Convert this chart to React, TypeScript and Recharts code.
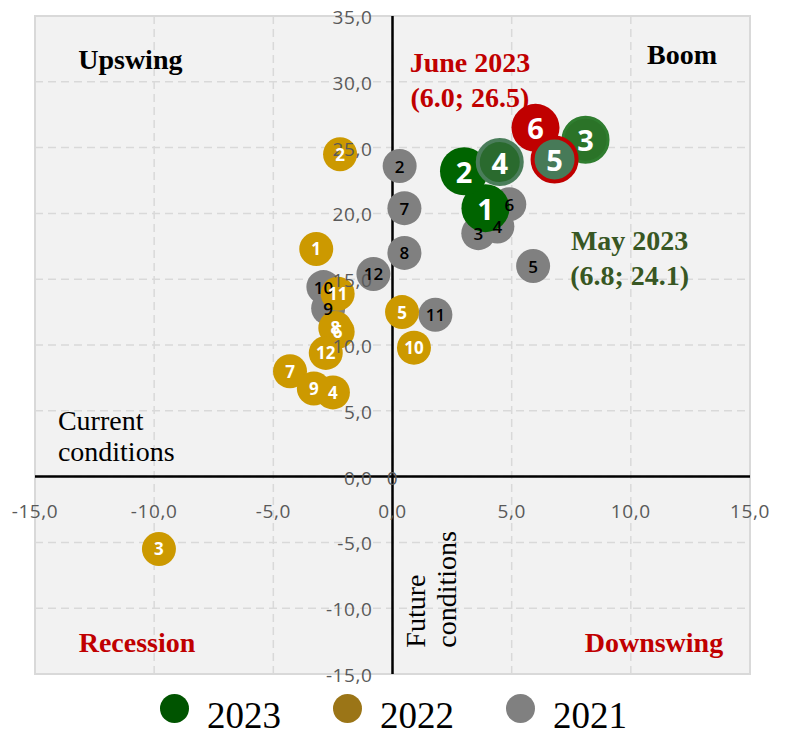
import React from 'react';
import {
  CartesianGrid,
  ReferenceArea,
  ReferenceDot,
  ReferenceLine,
  Scatter,
  ScatterChart,
  XAxis,
  YAxis
} from 'recharts';

// months shown as bubble labels, x = future conditions, y = current conditions
const MONTHS_2023 = [1, 2, 3, 4, 5, 6];
const X_2023 = [3.9, 3.0, 8.1, 4.5, 6.8, 6.0];
const Y_2023 = [20.4, 23.2, 25.6, 23.9, 24.1, 26.5];

const MONTHS_2022 = [1, 2, 3, 4, 5, 6, 7, 8, 9, 10, 11, 12];
const X_2022 = [-3.2, -2.2, -9.8, -2.5, 0.4, -2.3, -4.3, -2.4, -3.3, 0.9, -2.3, -2.8];
const Y_2022 = [17.3, 24.5, -5.5, 6.4, 12.5, 11.0, 8.0, 11.3, 6.7, 9.8, 13.9, 9.4];

const MONTHS_2021 = [2, 3, 4, 5, 6, 7, 8, 9, 10, 11, 12];
const X_2021 = [0.3, 3.6, 4.4, 5.9, 4.9, 0.5, 0.5, -2.7, -2.9, 1.8, -0.8];
const Y_2021 = [23.6, 18.5, 19.0, 16.0, 20.7, 20.4, 17.0, 12.8, 14.4, 12.3, 15.4];

const X_TICKS = [-15, -10, -5, 0, 5, 10, 15];
const Y_TICKS = [-15, -10, -5, 0, 5, 10, 15, 20, 25, 30, 35];

const LEGEND = [
  { name: '2023', color: '#005400' },
  { name: '2022', color: '#9b7517' },
  { name: '2021', color: '#808080' }
];

// special styling for the latest months of 2023
const STYLE_2023: Record<number, { fill: string; stroke?: string; sw?: number }> = {
  1: { fill: '#006400' },
  2: { fill: '#006400' },
  3: { fill: '#2b7328', stroke: '#2f7d2f', sw: 3 },
  4: { fill: '#2a6a2e', stroke: '#4a7d5a', sw: 4 },
  5: { fill: '#477a58', stroke: '#c00000', sw: 4 },
  6: { fill: '#c00000' }
};

const toRows = (months: number[], xs: number[], ys: number[]) =>
  months.map((m, i) => ({ month: m, x: xs[i], y: ys[i] }));

const rows2023 = toRows(MONTHS_2023, X_2023, Y_2023).sort(
  (a, b) => (a.month === 5 ? 1 : 0) - (b.month === 5 ? 1 : 0)
);
const rows2022 = toRows(MONTHS_2022, X_2022, Y_2022);
const rows2021 = toRows(MONTHS_2021, X_2021, Y_2021);

const fmt = (n: number) => n.toFixed(1).replace('.', ',');

const SERIF = '"Liberation Serif", "Times New Roman", serif';
const SANS = '"Open Sans", "Liberation Sans", sans-serif';

const bubble = (r: number, fill: string) => (p: any) => {
  if (p.cx == null || p.cy == null) return <g />;
  return <circle cx={p.cx} cy={p.cy} r={r} fill={fill} />;
};

const bubble2023 = (p: any) => {
  if (p.cx == null || p.cy == null) return <g />;
  const s = STYLE_2023[p.payload.month] || { fill: '#006400' };
  const sw = s.sw || 0;
  return (
    <circle cx={p.cx} cy={p.cy} r={24 - sw / 2} fill={s.fill} stroke={s.stroke || 'none'} strokeWidth={sw} />
  );
};

const monthLabel = (size: number, color: string, weight: number) => (p: any) => {
  if (p.cx == null || p.cy == null) return <g />;
  return (
    <text
      x={p.cx}
      y={p.cy}
      textAnchor="middle"
      dominantBaseline="central"
      fontFamily={SANS}
      fontSize={size}
      fontWeight={weight}
      fill={color}
    >
      {p.payload.month}
    </text>
  );
};

const tickText = (value: string, dx: number, dy: number, anchor: string) => (p: any) => {
  const { x, y } = p.viewBox;
  return (
    <text
      x={x + dx}
      y={y + dy}
      textAnchor={anchor}
      dominantBaseline="central"
      fontFamily={SANS}
      fontSize={19}
      letterSpacing={0.6}
      fill="#595959"
    >
      {value}
    </text>
  );
};

const note =
  (lines: string[], color: string, bold: boolean, anchor: string, rotate = false) =>
  (p: any) => {
    const { x, y } = p.viewBox;
    const common = {
      fontFamily: SERIF,
      fontSize: 28,
      fontWeight: bold ? 700 : 400,
      fill: color,
      textAnchor: anchor
    };
    if (rotate) {
      return (
        <text transform={`translate(${x},${y}) rotate(-90)`} {...common}>
          {lines.map((l, i) => (
            <tspan key={l} x={0} y={i * 31}>
              {l}
            </tspan>
          ))}
        </text>
      );
    }
    return (
      <text {...common} dominantBaseline="central">
        {lines.map((l, i) => (
          <tspan key={l} x={x} y={y + i * (bold ? 35 : 31)}>
            {l}
          </tspan>
        ))}
      </text>
    );
  };

const NOTES = [
  { x: -11.0, y: 31.7, lines: ['Upswing'], color: '#000', bold: true, anchor: 'middle' },
  { x: 12.15, y: 32.1, lines: ['Boom'], color: '#000', bold: true, anchor: 'middle' },
  { x: 3.25, y: 31.5, lines: ['June 2023', '(6.0; 26.5)'], color: '#c00000', bold: true, anchor: 'middle' },
  { x: 9.95, y: 18.0, lines: ['May 2023', '(6.8; 24.1)'], color: '#385723', bold: true, anchor: 'middle' },
  { x: -14.04, y: 4.33, lines: ['Current', 'conditions'], color: '#000', bold: false, anchor: 'start' },
  { x: -10.72, y: -12.54, lines: ['Recession'], color: '#c00000', bold: true, anchor: 'middle' },
  { x: 10.97, y: -12.54, lines: ['Downswing'], color: '#c00000', bold: true, anchor: 'middle' }
];

const App: React.FC = () => (
  <div style={{ position: 'absolute', left: 0, top: 0, width: 787, height: 729, background: '#fff', overflow: 'hidden' }}>
    <ScatterChart width={787} height={729} margin={{ top: 16, right: 37, bottom: 55, left: 35 }}>
      <CartesianGrid stroke="#d9d9d9" strokeWidth={1.5} strokeDasharray="8 5" fill="#f2f2f2" />
      <XAxis type="number" dataKey="x" domain={[-15, 15]} ticks={X_TICKS} hide />
      <YAxis type="number" dataKey="y" domain={[-15, 35]} ticks={Y_TICKS} hide />
      <ReferenceArea x1={-15} x2={15} y1={-15} y2={35} fill="none" stroke="#d9d9d9" strokeWidth={2} />
      <ReferenceLine x={0} stroke="#000" strokeWidth={2.5} />
      <ReferenceLine y={0} stroke="#000" strokeWidth={2.5} />
      {NOTES.map((n) => (
        <ReferenceDot key={n.lines[0]} x={n.x} y={n.y} r={0} fill="none" stroke="none" label={note(n.lines, n.color, n.bold, n.anchor)} />
      ))}
      <ReferenceDot x={1.36} y={-13.0} r={0} fill="none" stroke="none" label={note(['Future', 'conditions'], '#000', false, 'start', true)} />
      <Scatter data={rows2021} shape={bubble(17, '#808080')} isAnimationActive={false} />
      <Scatter data={rows2022} shape={bubble(17, '#cc9900')} isAnimationActive={false} />
      <Scatter data={rows2023} shape={bubble2023} isAnimationActive={false} />
      {X_TICKS.map((t) => (
        <ReferenceDot key={'x' + t} x={t} y={0} r={0} fill="none" stroke="none" label={tickText(fmt(t), 0, 34, 'middle')} />
      ))}
      {Y_TICKS.map((t) => (
        <ReferenceDot key={'y' + t} x={0} y={t} r={0} fill="none" stroke="none" label={tickText(fmt(t), -20, 1, 'end')} />
      ))}
      <ReferenceDot x={0} y={0} r={0} fill="none" stroke="none" label={tickText('0', 0, 1, 'middle')} />
      <Scatter data={rows2021} shape={monthLabel(17, '#000', 600)} isAnimationActive={false} />
      <Scatter data={rows2022} shape={monthLabel(17, '#fff', 700)} isAnimationActive={false} />
      <Scatter data={rows2023} shape={monthLabel(29, '#fff', 700)} isAnimationActive={false} />
    </ScatterChart>
    <div
      style={{
        position: 'absolute',
        left: 0,
        top: 697,
        width: 787,
        display: 'flex',
        justifyContent: 'center',
        alignItems: 'center'
      }}
    >
      {LEGEND.map((item, i) => (
        <div key={item.name} style={{ display: 'flex', alignItems: 'center', marginRight: i < LEGEND.length - 1 ? 52 : 0 }}>
          <span
            style={{
              display: 'inline-block',
              width: 29,
              height: 29,
              borderRadius: '50%',
              background: item.color,
              position: 'relative',
              top: -7,
              marginRight: 18
            }}
          />
          <span style={{ fontFamily: SERIF, fontSize: 37, lineHeight: '37px', color: '#000' }}>{item.name}</span>
        </div>
      ))}
    </div>
  </div>
);

export default App;
